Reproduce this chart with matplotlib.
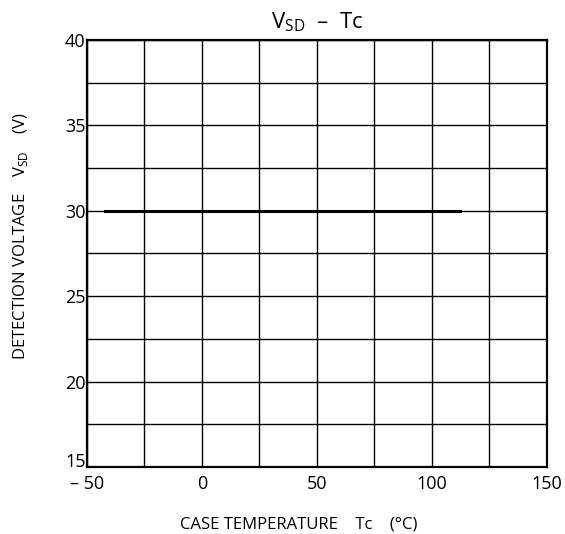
import numpy as np
import matplotlib
matplotlib.use("Agg")
import matplotlib.pyplot as plt

plt.rcParams.update({
    "font.family": ["Open Sans", "DejaVu Sans"],
    "mathtext.fontset": "custom", "mathtext.rm": "Open Sans",
    "font.size": 11,
})

# data: detection voltage is flat over the case temperature range
tc = [-42, 112]
vsd = [30, 30]

x_ticks = [-50, 0, 50, 100, 150]
x_ticklabels = ["\u2013 50", "0", "50", "100", "150"]
y_ticks = [15, 20, 25, 30, 35, 40]
x_grid = [-25, 25, 75, 125]
y_grid = [17.5, 22.5, 27.5, 32.5, 37.5]

fig = plt.figure(figsize=(5.65, 5.34), dpi=100)
ax = fig.add_axes([0.154, 0.1255, 0.814, 0.80])

ax.set_xlim(-50, 150)
ax.set_ylim(15, 40)
ax.set_xticks(x_ticks)
ax.set_xticklabels(x_ticklabels)
ax.set_yticks(y_ticks)
ax.set_xticks(x_grid, minor=True)
ax.set_yticks(y_grid, minor=True)
ax.grid(True, which="both", color="black", linewidth=1.0)
ax.tick_params(which="both", length=0, labelsize=13)
ax.tick_params(axis="x", pad=6)
ax.tick_params(axis="y", pad=1)
for lbl in ax.get_yticklabels():
    if lbl.get_text() == "15":
        lbl.set_va("baseline")
for sp in ax.spines.values():
    sp.set_linewidth(1.6)

ax.plot(tc, vsd, color="black", linewidth=2.2, zorder=3)

ax.set_title("V$_{\\mathregular{SD}}$  \u2013  Tc", fontsize=16, pad=8)
ax.set_xlabel("CASE TEMPERATURE    Tc    (\u00b0C)", fontsize=12)
ax.xaxis.set_label_coords(0.46, -0.115)
ax.set_ylabel("DETECTION VOLTAGE    V$_{\\mathregular{SD}}$    (V)",
              fontsize=12)
ax.yaxis.set_label_coords(-0.125, 0.54)

fig.savefig("out.png", dpi=100)
